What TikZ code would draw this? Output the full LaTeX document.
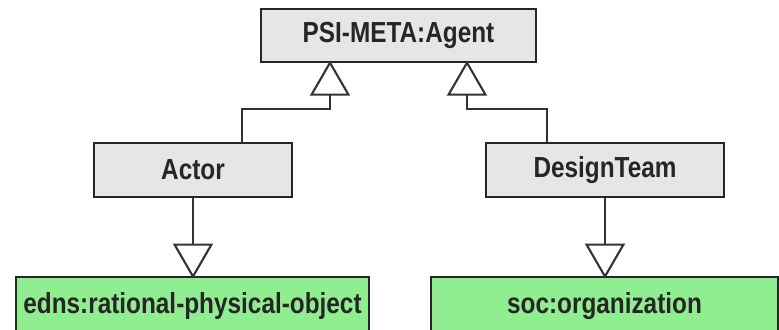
\documentclass[tikz,border=0pt]{standalone}
\usepackage{fontspec}
\setmainfont{Liberation Sans}[FakeStretch=0.84]
\usepackage{xcolor}
\usepackage{tikz}
\usetikzlibrary{arrows.meta, positioning, calc}

\definecolor{boxgray}{RGB}{230,230,230}
\definecolor{boxgreen}{RGB}{144,238,144}

\begin{document}
\begin{tikzpicture}[
    x=0.02cm, y=0.02cm,
    box/.style={draw=black!85, line width=1.2pt, minimum height=1.07cm, align=center, inner sep=0pt,
        font=\fontsize{16.5}{19}\selectfont\bfseries, text=black!85},
    gen/.style={line width=1.2pt, draw=black!80, shorten >=-1.5pt, -{Triangle[open, length=0.7cm, width=0.8cm]}}
]
    \useasboundingbox (0,0) rectangle (779,330);
    \clip (0,0) rectangle (779,330);

    \node[box, fill=boxgray, minimum width=5.5cm] (agent) at (398.5,294.5) {PSI-META:Agent};
    \node[box, fill=boxgray, minimum width=3.96cm] (actor) at (193,160) {Actor};
    \node[box, fill=boxgray, minimum width=4.76cm] (team) at (605,160) {DesignTeam};
    \node[box, fill=boxgreen, minimum width=7.06cm, minimum height=1.16cm] (edns) at (192.5,24) {edns:rational-physical-object};
    \node[box, fill=boxgreen, minimum width=6.94cm, minimum height=1.16cm] (org) at (604.5,24) {soc:organization};

    \draw[gen] ($(actor.north)+(49,0)$) -- ++(0,33) -| ($(agent.south)+(-68.5,0)$);
    \draw[gen] ($(team.north)+(-58,0)$) -- ++(0,33) -| ($(agent.south)+(68.5,0)$);
    \draw[gen] (actor.south) -- (actor.south |- edns.north);
    \draw[gen] (team.south) -- (team.south |- org.north);
\end{tikzpicture}
\end{document}
